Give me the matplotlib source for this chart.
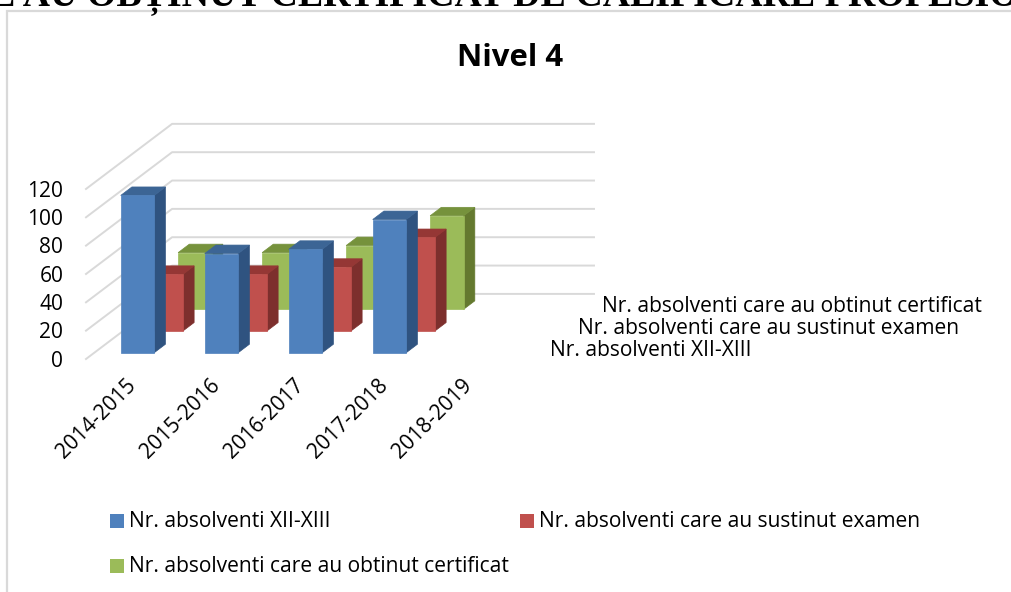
import matplotlib
matplotlib.use("Agg")
import matplotlib.pyplot as plt

W, H = 1011, 592

categories = ["2014-2015", "2015-2016", "2016-2017", "2017-2018", "2018-2019"]
absolventi = [111, 70, 73, 94]
examen = [40, 40, 45, 66]
certificat = [40, 40, 45, 66]
y_ticks = [0, 20, 40, 60, 80, 100, 120]

names = ["Nr. absolventi XII-XIII", "Nr. absolventi care au sustinut examen",
         "Nr. absolventi care au obtinut certificat"]
front = ["#4F81BD", "#C0504D", "#9BBB59"]
top = ["#3C6595", "#953735", "#76923C"]
side = ["#2F5380", "#7D2F2D", "#64792F"]

# pixel scale of the fake 3D plot
PX_CAT = 84.0
PX_VAL = 1.417
X0 = 86.0
Y0 = 359.0
DX = 28.7 / PX_CAT      # one series deeper, in category units
DY = 21.7 / PX_VAL      # one series deeper, in value units
BAR_W = 33.5 / PX_CAT
BAR_D = 0.39
BAR_OFF = 0.29
CAT_OFF = 26.4 / PX_CAT

plt.rcParams["font.family"] = ["Open Sans", "DejaVu Sans"]

fig = plt.figure(figsize=(W / 100, H / 100), dpi=100)
ax = fig.add_axes([0, 0, 1, 1])
ax.set_xlim(-X0 / PX_CAT, (W - X0) / PX_CAT)
ax.set_ylim((Y0 - H) / PX_VAL, Y0 / PX_VAL)
ax.axis("off")

def px(x, y):
    return (x - 0.5) / W, 1 - (y - 0.5) / H

# chart frame
fx, fy = px(7, 11)
ax.plot([fx, fx, 1], [0, fy, fy], transform=ax.transAxes,
        color="#D9D9D9", lw=1.6, solid_joinstyle="miter")

# heading cut off at the top of the page
fig.text(px(-92, 0)[0], px(0, 6)[1], "CARE AU OBȚINUT CERTIFICAT DE CALIFICARE PROFESIONALĂ", family="Liberation Serif",
         weight="bold", fontsize=27.3, ha="left", va="baseline", color="black")

fig.text(px(511, 0)[0], px(0, 59)[1], "Nivel 4", ha="center", va="center", weight="bold", fontsize=22.4, color="black")

# grid on back and left walls
for v in y_ticks:
    ax.plot([0, 3 * DX, 3 * DX + (594 - 172.1) / PX_CAT], [v, v + 3 * DY, v + 3 * DY],
            color="#D9D9D9", lw=1.4, zorder=0.5)

# bars, back series first
for s, vals in reversed(list(enumerate([absolventi, examen, certificat]))):
    for c, v in enumerate(vals):
        x = c + CAT_OFF + (s + BAR_OFF) * DX
        b = (s + BAR_OFF) * DY
        dx = BAR_D * DX
        dy = BAR_D * DY
        ax.fill([x + BAR_W, x + BAR_W + dx, x + BAR_W + dx, x + BAR_W],
                [b, b + dy, b + v + dy, b + v], color=side[s], lw=0.5)
        ax.fill([x, x + dx, x + BAR_W + dx, x + BAR_W],
                [b + v, b + v + dy, b + v + dy, b + v], color=top[s], lw=0.5)
        ax.fill([x, x + BAR_W, x + BAR_W, x], [b, b, b + v, b + v], color=front[s], lw=0.5)

# value labels
for v in y_ticks:
    ax.text(-22.5 / PX_CAT, v - 1.5, str(v), ha="right", va="center", fontsize=15.1, color="black")

# category labels
for c, name in enumerate(categories):
    ax.text(c + 0.12, -42.5, name, rotation=45, rotation_mode="anchor", ha="center", va="center",
            fontsize=15.1, color="black")

# series names along the depth axis
name_x = [551, 578, 603]
name_y = [351, 329, 307]
for s in range(3):
    fig.text(px(name_x[s], 0)[0], px(0, name_y[s])[1], names[s], ha="left", va="center", fontsize=15.1, color="black")

# legend
legend_x = [110, 520, 110]
legend_y = [522, 522, 567]
for s in range(3):
    fig.patches.append(plt.Rectangle(px(legend_x[s], legend_y[s] + 6), 14 / W, 14 / H,
                                     transform=fig.transFigure, figure=fig, color=front[s], lw=0))
    fig.text(px(legend_x[s] + 19.5, 0)[0], px(0, legend_y[s])[1], names[s], ha="left", va="center",
             fontsize=15.1, color="black")

fig.savefig("out.png", dpi=100)
